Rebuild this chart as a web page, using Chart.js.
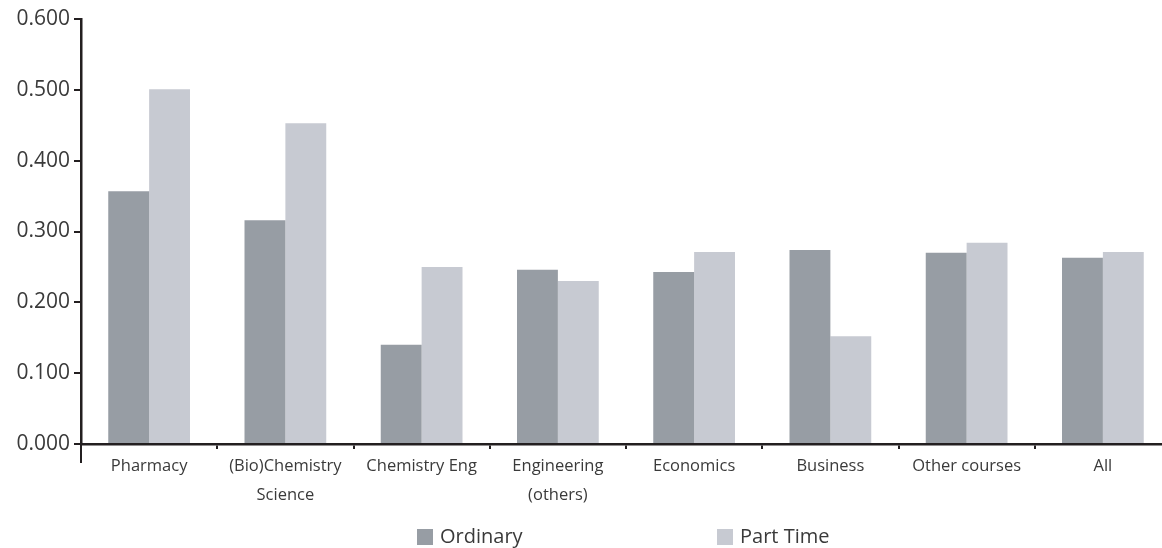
<!DOCTYPE html>
<html>
<head>
<meta charset="utf-8">
<script src="https://cdn.jsdelivr.net/npm/chart.js@4/dist/chart.umd.min.js"></script>
<style>
  html, body { margin: 0; padding: 0; background: #fff; overflow: hidden; }
  #wrap { position: relative; width: 1162px; height: 548px; overflow: hidden; }
  .leg { position: absolute; top: 522px; font-family: "Open Sans", sans-serif; font-size: 20px; color: #3a3a3a; }
  .leg span { display: inline-block; width: 16px; height: 16px; margin-right: 7px; vertical-align: -2px; }
</style>
</head>
<body>
<div id="wrap">
  <canvas id="myChart" width="1171" height="548"></canvas>
  <div class="leg" id="leg0" style="left:417px"></div>
  <div class="leg" id="leg1" style="left:717px"></div>
</div>
<script>
const categories = [
  "Pharmacy",
  ["(Bio)Chemistry", "Science"],
  "Chemistry Eng",
  ["Engineering", "(others)"],
  "Economics",
  "Business",
  "Other courses",
  "All"
];
const seriesNames = ["Ordinary", "Part Time"];
const ordinary = [0.357, 0.316, 0.140, 0.246, 0.243, 0.274, 0.270, 0.263];
const partTime = [0.501, 0.453, 0.250, 0.230, 0.271, 0.152, 0.284, 0.271];
const yTickLabels = ["0.000", "0.100", "0.200", "0.300", "0.400", "0.500", "0.600"];
const colors = ["#979da4", "#c7cad2"];

const canvas = document.getElementById("myChart");
const ctx = canvas.getContext("2d");

// y axis line runs a bit below the x axis in the original
const yAxisTail = {
  id: "yAxisTail",
  afterDraw(chart) {
    const c = chart.ctx;
    const area = chart.chartArea;
    c.save();
    c.strokeStyle = "#231f20";
    c.lineWidth = 2;
    c.beginPath();
    c.moveTo(area.left, area.bottom);
    c.lineTo(area.left, area.bottom + 19);
    c.stroke();
    c.restore();
  }
};

const chart = new Chart(ctx, {
  type: "bar",
  data: {
    labels: categories,
    datasets: [
      { label: seriesNames[0], data: ordinary, backgroundColor: colors[0], borderWidth: 0 },
      { label: seriesNames[1], data: partTime, backgroundColor: colors[1], borderWidth: 0 }
    ]
  },
  options: {
    responsive: false,
    animation: false,
    layout: { padding: { top: 19, right: 0, bottom: 44, left: 0 } },
    datasets: { bar: { categoryPercentage: 0.6, barPercentage: 1 } },
    scales: {
      x: {
        offset: true,
        border: { color: "#231f20", width: 2.5 },
        grid: { offset: true, drawOnChartArea: false, color: "#231f20", lineWidth: 2, tickLength: 5 },
        ticks: {
          color: "#3a3a3a",
          padding: 2,
          maxRotation: 0,
          autoSkip: false,
          font: { family: "Open Sans", size: 16.5, lineHeight: 1.8 }
        },
        afterFit: function (scale) { scale.height = 60; }
      },
      y: {
        min: 0,
        max: 0.6,
        border: { color: "#231f20", width: 2.5 },
        grid: { drawOnChartArea: false, color: "#231f20", lineWidth: 2, tickLength: 7 },
        ticks: {
          stepSize: 0.1,
          color: "#3a3a3a",
          padding: 4,
          font: { family: "Open Sans", size: 21 },
          callback: function (value, index) { return yTickLabels[index]; }
        },
        afterFit: function (scale) { scale.width = 81; }
      }
    },
    plugins: {
      legend: { display: false },
      tooltip: { enabled: false }
    }
  },
  plugins: [yAxisTail]
});

// Legend below the chart
seriesNames.forEach(function (name, i) {
  const el = document.getElementById("leg" + i);
  el.innerHTML = '<span style="background:' + colors[i] + '"></span>' + name;
});
</script>
</body>
</html>
